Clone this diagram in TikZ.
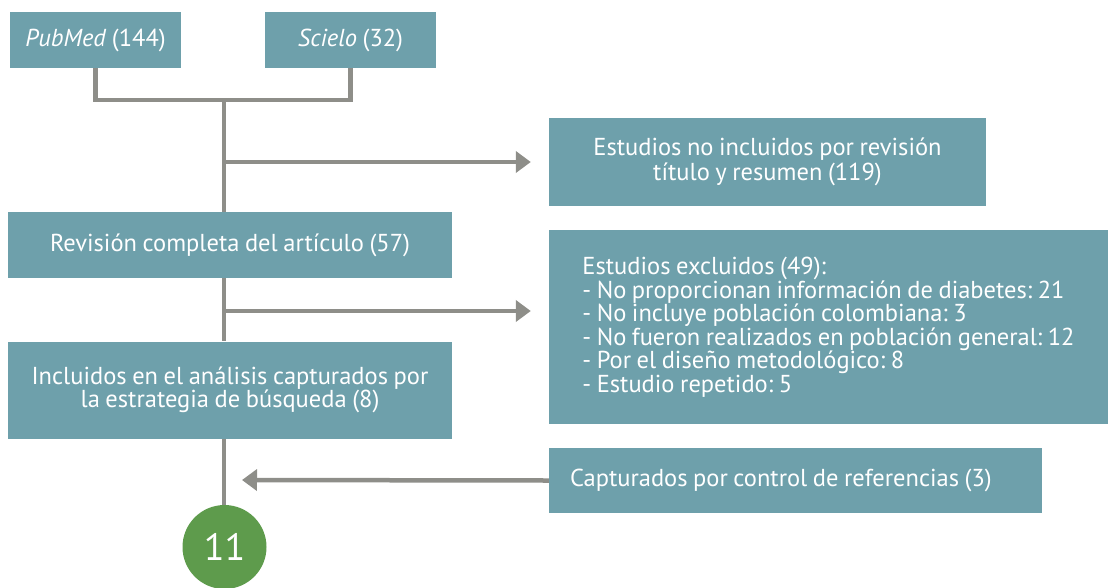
\documentclass[tikz,border=0pt]{standalone}
\usepackage{fontspec}
\setmainfont{PT Sans}[WordSpace=0.85]
\frenchspacing
\usetikzlibrary{arrows.meta}
\definecolor{boxteal}{RGB}{110,160,171}
\definecolor{linegray}{RGB}{142,142,137}
\definecolor{circgreen}{RGB}{94,155,76}
\tikzset{
  x=1pt, y=-1pt,
  tbox/.style={fill=boxteal, draw=none, text=white, inner sep=0pt, align=center,
    font=\fontsize{24.5}{23.5}\selectfont},
  conn/.style={draw=linegray, line width=4.5pt},
  arr/.style={conn, -{Triangle[length=15pt,width=21pt]}},
}
\begin{document}
\begin{tikzpicture}
\useasboundingbox (0,0) rectangle (1108,587);
\node[tbox, minimum width=171pt, minimum height=56pt] (pub) at (95.5,40) {\textit{PubMed} (144)};
\node[tbox, minimum width=171pt, minimum height=56pt] (sci) at (350.5,40) {\textit{Scielo} (32)};
\node[tbox, minimum width=444pt, minimum height=66pt] (rev) at (230,245) {Revisión completa del artículo (57)};
\node[tbox, minimum width=444pt, minimum height=97pt] (inc) at (230,390) {Incluidos en el análisis capturados por\\la estrategia de búsqueda (8)};
\node[tbox, minimum width=437pt, minimum height=88pt, font=\fontsize{24.5}{25}\selectfont] (noinc) at (767.5,162) {Estudios no incluidos por revisión\\título y resumen (119)};
\node[tbox, minimum width=559pt, minimum height=194pt, align=left] (excl) at (828.5,327) {Estudios excluidos (49):\\- No proporcionan información de diabetes: 21\\- No incluye población colombiana: 3\\- No fueron realizados en población general: 12\\- Por el diseño metodológico: 8\\- Estudio repetido: 5};
\node[tbox, minimum width=493pt, minimum height=65pt, align=flush left, text width=451pt, inner xsep=21pt] (cap) at (795.5,480.5) {Capturados por control de referencias (3)};
\node[circle, fill=circgreen, minimum size=84pt, inner sep=0pt, text=white, font=\fontsize{38}{38}\selectfont] (tot) at (224.5,547) {11};
\coordinate (j) at (224,100);
\coordinate (a1) at (224,162);
\coordinate (a2) at (224,311);
\coordinate (a3) at (224,480);
\draw[conn] (pub.south) |- (j) -| (sci.south);
\draw[conn] (j) -- (j |- rev.north);
\draw[conn] (j |- rev.south) -- (j |- inc.north);
\draw[conn] (j |- inc.south) -- (j |- tot.north);
\draw[arr] (a1) -- ([xshift=-18pt]noinc.west |- a1);
\draw[arr] (a2) -- ([xshift=-18pt]excl.west |- a2);
\draw[arr] (cap.west) -- ([xshift=18pt]a3);
\end{tikzpicture}
\end{document}
